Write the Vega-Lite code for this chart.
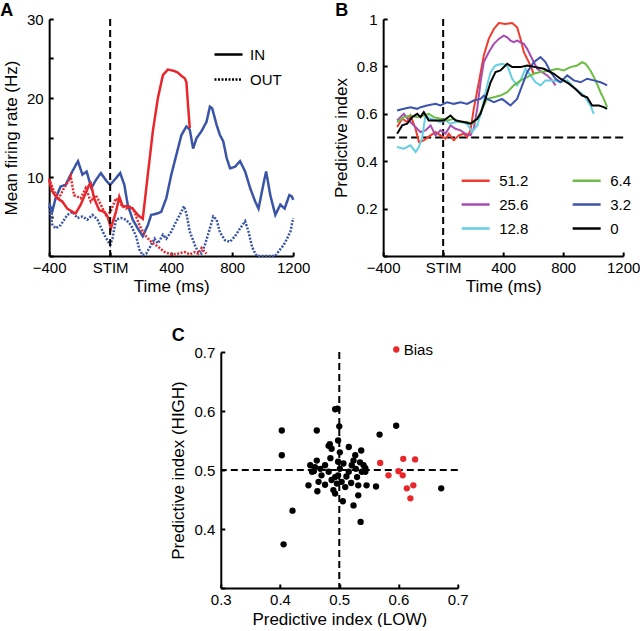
{
"$schema": "https://vega.github.io/schema/vega-lite/v6.json",
"padding": {"left": 0, "top": 2, "right": 0, "bottom": 0},
"config": {
 "font": "Liberation Sans",
 "view": {"stroke": null},
 "axis": {"domainColor": "#000", "domainWidth": 2, "tickColor": "#000", "tickWidth": 2, "tickSize": -4, "labelColor": "#000", "labelFontSize": 15, "titleFontSize": 17, "titleFontWeight": "normal", "titleColor": "#000", "grid": false, "labelFlush": false, "labelOverlap": false},
 "axisX": {"labelPadding": 8, "titlePadding": 3},
 "axisY": {"labelPadding": 10, "titlePadding": 6},
 "legend": {"labelFontSize": 15, "labelColor": "#000"},
 "title": {"fontSize": 18, "fontWeight": "bold", "anchor": "start", "frame": "group", "color": "#000", "offset": 0}
},
"datasets": {
 "A": [
  {"c":"blue","k":"IN","t":-400,"r":6.7},{"c":"blue","k":"IN","t":-380,"r":5.6},{"c":"blue","k":"IN","t":-358,"r":7.3},{"c":"blue","k":"IN","t":-325,"r":8.8},{"c":"blue","k":"IN","t":-292,"r":9.0},{"c":"blue","k":"IN","t":-259,"r":10.3},{"c":"blue","k":"IN","t":-226,"r":11.5},{"c":"blue","k":"IN","t":-211,"r":12.0},{"c":"blue","k":"IN","t":-182,"r":10.3},{"c":"blue","k":"IN","t":-154,"r":10.7},{"c":"blue","k":"IN","t":-123,"r":8.6},{"c":"blue","k":"IN","t":-94,"r":9.6},{"c":"blue","k":"IN","t":-61,"r":10.5},{"c":"blue","k":"IN","t":-28,"r":9.6},{"c":"blue","k":"IN","t":0,"r":9.0},{"c":"blue","k":"IN","t":27,"r":9.6},{"c":"blue","k":"IN","t":66,"r":10.5},{"c":"blue","k":"IN","t":93,"r":9.0},{"c":"blue","k":"IN","t":115,"r":6.5},{"c":"blue","k":"IN","t":148,"r":4.6},{"c":"blue","k":"IN","t":181,"r":3.5},{"c":"blue","k":"IN","t":214,"r":2.5},{"c":"blue","k":"IN","t":247,"r":3.9},{"c":"blue","k":"IN","t":269,"r":5.2},{"c":"blue","k":"IN","t":313,"r":5.4},{"c":"blue","k":"IN","t":335,"r":5.6},{"c":"blue","k":"IN","t":368,"r":7.3},{"c":"blue","k":"IN","t":401,"r":10.3},{"c":"blue","k":"IN","t":434,"r":12.8},{"c":"blue","k":"IN","t":467,"r":15.3},{"c":"blue","k":"IN","t":500,"r":16.4},{"c":"blue","k":"IN","t":522,"r":16.0},{"c":"blue","k":"IN","t":544,"r":13.6},{"c":"blue","k":"IN","t":566,"r":14.9},{"c":"blue","k":"IN","t":599,"r":15.8},{"c":"blue","k":"IN","t":632,"r":17.0},{"c":"blue","k":"IN","t":654,"r":18.9},{"c":"blue","k":"IN","t":669,"r":18.7},{"c":"blue","k":"IN","t":698,"r":16.6},{"c":"blue","k":"IN","t":720,"r":15.3},{"c":"blue","k":"IN","t":742,"r":14.5},{"c":"blue","k":"IN","t":764,"r":12.4},{"c":"blue","k":"IN","t":786,"r":11.1},{"c":"blue","k":"IN","t":819,"r":11.3},{"c":"blue","k":"IN","t":852,"r":12.0},{"c":"blue","k":"IN","t":885,"r":10.7},{"c":"blue","k":"IN","t":918,"r":8.6},{"c":"blue","k":"IN","t":951,"r":6.9},{"c":"blue","k":"IN","t":973,"r":6.0},{"c":"blue","k":"IN","t":1006,"r":9.2},{"c":"blue","k":"IN","t":1023,"r":10.7},{"c":"blue","k":"IN","t":1050,"r":7.7},{"c":"blue","k":"IN","t":1083,"r":5.2},{"c":"blue","k":"IN","t":1116,"r":6.5},{"c":"blue","k":"IN","t":1144,"r":6.0},{"c":"blue","k":"IN","t":1175,"r":7.7},{"c":"blue","k":"IN","t":1193,"r":7.5},{"c":"blue","k":"IN","t":1200,"r":7.1},
  {"c":"blue","k":"OUT","t":-400,"r":6.3},{"c":"blue","k":"OUT","t":-380,"r":4.0},{"c":"blue","k":"OUT","t":-358,"r":3.5},{"c":"blue","k":"OUT","t":-325,"r":3.9},{"c":"blue","k":"OUT","t":-281,"r":5.2},{"c":"blue","k":"OUT","t":-248,"r":5.6},{"c":"blue","k":"OUT","t":-215,"r":4.8},{"c":"blue","k":"OUT","t":-182,"r":5.0},{"c":"blue","k":"OUT","t":-149,"r":4.6},{"c":"blue","k":"OUT","t":-116,"r":5.2},{"c":"blue","k":"OUT","t":-83,"r":4.6},{"c":"blue","k":"OUT","t":-39,"r":2.7},{"c":"blue","k":"OUT","t":0,"r":1.4},{"c":"blue","k":"OUT","t":15,"r":2.2},{"c":"blue","k":"OUT","t":38,"r":4.6},{"c":"blue","k":"OUT","t":71,"r":4.8},{"c":"blue","k":"OUT","t":104,"r":4.6},{"c":"blue","k":"OUT","t":137,"r":3.9},{"c":"blue","k":"OUT","t":170,"r":2.5},{"c":"blue","k":"OUT","t":192,"r":0.8},{"c":"blue","k":"OUT","t":214,"r":0.1},{"c":"blue","k":"OUT","t":236,"r":0.3},{"c":"blue","k":"OUT","t":258,"r":1.0},{"c":"blue","k":"OUT","t":291,"r":2.2},{"c":"blue","k":"OUT","t":313,"r":1.6},{"c":"blue","k":"OUT","t":346,"r":2.7},{"c":"blue","k":"OUT","t":368,"r":2.2},{"c":"blue","k":"OUT","t":401,"r":3.1},{"c":"blue","k":"OUT","t":434,"r":4.4},{"c":"blue","k":"OUT","t":467,"r":5.6},{"c":"blue","k":"OUT","t":484,"r":6.3},{"c":"blue","k":"OUT","t":500,"r":5.4},{"c":"blue","k":"OUT","t":522,"r":3.1},{"c":"blue","k":"OUT","t":555,"r":1.4},{"c":"blue","k":"OUT","t":577,"r":0.5},{"c":"blue","k":"OUT","t":599,"r":0.3},{"c":"blue","k":"OUT","t":621,"r":1.4},{"c":"blue","k":"OUT","t":654,"r":3.5},{"c":"blue","k":"OUT","t":676,"r":5.0},{"c":"blue","k":"OUT","t":698,"r":4.6},{"c":"blue","k":"OUT","t":720,"r":3.0},{"c":"blue","k":"OUT","t":753,"r":2.0},{"c":"blue","k":"OUT","t":786,"r":1.8},{"c":"blue","k":"OUT","t":819,"r":2.5},{"c":"blue","k":"OUT","t":852,"r":3.5},{"c":"blue","k":"OUT","t":885,"r":4.4},{"c":"blue","k":"OUT","t":907,"r":3.1},{"c":"blue","k":"OUT","t":930,"r":1.2},{"c":"blue","k":"OUT","t":951,"r":0.3},{"c":"blue","k":"OUT","t":962,"r":0},{"c":"blue","k":"OUT","t":1083,"r":0},{"c":"blue","k":"OUT","t":1105,"r":0.6},{"c":"blue","k":"OUT","t":1138,"r":1.4},{"c":"blue","k":"OUT","t":1160,"r":2.2},{"c":"blue","k":"OUT","t":1182,"r":3.1},{"c":"blue","k":"OUT","t":1200,"r":4.8},
  {"c":"red","k":"IN","t":-400,"r":9.6},{"c":"red","k":"IN","t":-380,"r":8.2},{"c":"red","k":"IN","t":-347,"r":7.3},{"c":"red","k":"IN","t":-314,"r":6.9},{"c":"red","k":"IN","t":-281,"r":6.0},{"c":"red","k":"IN","t":-248,"r":5.6},{"c":"red","k":"IN","t":-226,"r":5.4},{"c":"red","k":"IN","t":-193,"r":6.5},{"c":"red","k":"IN","t":-160,"r":8.0},{"c":"red","k":"IN","t":-138,"r":9.0},{"c":"red","k":"IN","t":-127,"r":9.2},{"c":"red","k":"IN","t":-105,"r":7.3},{"c":"red","k":"IN","t":-72,"r":5.8},{"c":"red","k":"IN","t":-39,"r":5.6},{"c":"red","k":"IN","t":-17,"r":5.0},{"c":"red","k":"IN","t":5,"r":3.5},{"c":"red","k":"IN","t":38,"r":5.6},{"c":"red","k":"IN","t":60,"r":7.5},{"c":"red","k":"IN","t":82,"r":6.3},{"c":"red","k":"IN","t":115,"r":6.3},{"c":"red","k":"IN","t":148,"r":6.0},{"c":"red","k":"IN","t":181,"r":5.2},{"c":"red","k":"IN","t":214,"r":4.7},{"c":"red","k":"IN","t":247,"r":10.3},{"c":"red","k":"IN","t":280,"r":15.8},{"c":"red","k":"IN","t":313,"r":20.0},{"c":"red","k":"IN","t":346,"r":22.9},{"c":"red","k":"IN","t":379,"r":23.6},{"c":"red","k":"IN","t":401,"r":23.5},{"c":"red","k":"IN","t":423,"r":23.4},{"c":"red","k":"IN","t":445,"r":23.2},{"c":"red","k":"IN","t":467,"r":22.8},{"c":"red","k":"IN","t":489,"r":22.5},{"c":"red","k":"IN","t":500,"r":22.0},{"c":"red","k":"IN","t":511,"r":19.0},{"c":"red","k":"IN","t":522,"r":16.2},
  {"c":"red","k":"OUT","t":-400,"r":9.8},{"c":"red","k":"OUT","t":-369,"r":8.2},{"c":"red","k":"OUT","t":-336,"r":7.3},{"c":"red","k":"OUT","t":-303,"r":8.6},{"c":"red","k":"OUT","t":-270,"r":9.6},{"c":"red","k":"OUT","t":-259,"r":10.1},{"c":"red","k":"OUT","t":-237,"r":7.7},{"c":"red","k":"OUT","t":-193,"r":7.3},{"c":"red","k":"OUT","t":-160,"r":8.6},{"c":"red","k":"OUT","t":-127,"r":6.9},{"c":"red","k":"OUT","t":-94,"r":7.7},{"c":"red","k":"OUT","t":-61,"r":6.5},{"c":"red","k":"OUT","t":-28,"r":5.2},{"c":"red","k":"OUT","t":0,"r":5.5},{"c":"red","k":"OUT","t":38,"r":7.3},{"c":"red","k":"OUT","t":71,"r":6.5},{"c":"red","k":"OUT","t":104,"r":6.0},{"c":"red","k":"OUT","t":137,"r":6.3},{"c":"red","k":"OUT","t":159,"r":5.6},{"c":"red","k":"OUT","t":192,"r":3.9},{"c":"red","k":"OUT","t":225,"r":2.7},{"c":"red","k":"OUT","t":269,"r":1.8},{"c":"red","k":"OUT","t":313,"r":1.2},{"c":"red","k":"OUT","t":357,"r":0.5},{"c":"red","k":"OUT","t":401,"r":0.2},{"c":"red","k":"OUT","t":445,"r":0.3},{"c":"red","k":"OUT","t":489,"r":0.5},{"c":"red","k":"OUT","t":522,"r":0.2},{"c":"red","k":"OUT","t":555,"r":0.5},{"c":"red","k":"OUT","t":577,"r":0.3},{"c":"red","k":"OUT","t":599,"r":1.0},{"c":"red","k":"OUT","t":621,"r":0.5},{"c":"red","k":"OUT","t":632,"r":0.3}
 ],
 "B": [
  {"g":"51.2","t":-307,"v":0.544},{"g":"51.2","t":-273,"v":0.579},{"g":"51.2","t":-240,"v":0.565},{"g":"51.2","t":-218,"v":0.593},{"g":"51.2","t":-184,"v":0.537},{"g":"51.2","t":-162,"v":0.481},{"g":"51.2","t":-129,"v":0.488},{"g":"51.2","t":-84,"v":0.509},{"g":"51.2","t":-51,"v":0.523},{"g":"51.2","t":-18,"v":0.509},{"g":"51.2","t":16,"v":0.495},{"g":"51.2","t":38,"v":0.516},{"g":"51.2","t":71,"v":0.488},{"g":"51.2","t":104,"v":0.509},{"g":"51.2","t":138,"v":0.516},{"g":"51.2","t":160,"v":0.502},{"g":"51.2","t":182,"v":0.530},{"g":"51.2","t":204,"v":0.621},{"g":"51.2","t":238,"v":0.733},{"g":"51.2","t":271,"v":0.846},{"g":"51.2","t":304,"v":0.916},{"g":"51.2","t":338,"v":0.958},{"g":"51.2","t":371,"v":0.983},{"g":"51.2","t":416,"v":0.979},{"g":"51.2","t":460,"v":0.983},{"g":"51.2","t":493,"v":0.965},{"g":"51.2","t":516,"v":0.916},{"g":"51.2","t":538,"v":0.860},{"g":"51.2","t":571,"v":0.818},{"g":"51.2","t":604,"v":0.769},
  {"g":"25.6","t":-307,"v":0.572},{"g":"25.6","t":-262,"v":0.600},{"g":"25.6","t":-229,"v":0.572},{"g":"25.6","t":-196,"v":0.551},{"g":"25.6","t":-151,"v":0.523},{"g":"25.6","t":-118,"v":0.530},{"g":"25.6","t":-84,"v":0.551},{"g":"25.6","t":-51,"v":0.509},{"g":"25.6","t":-18,"v":0.530},{"g":"25.6","t":16,"v":0.516},{"g":"25.6","t":49,"v":0.551},{"g":"25.6","t":82,"v":0.537},{"g":"25.6","t":116,"v":0.530},{"g":"25.6","t":149,"v":0.516},{"g":"25.6","t":182,"v":0.509},{"g":"25.6","t":204,"v":0.537},{"g":"25.6","t":227,"v":0.621},{"g":"25.6","t":249,"v":0.733},{"g":"25.6","t":271,"v":0.818},{"g":"25.6","t":304,"v":0.860},{"g":"25.6","t":338,"v":0.895},{"g":"25.6","t":371,"v":0.916},{"g":"25.6","t":404,"v":0.930},{"g":"25.6","t":427,"v":0.923},{"g":"25.6","t":449,"v":0.909},{"g":"25.6","t":471,"v":0.902},{"g":"25.6","t":493,"v":0.909},{"g":"25.6","t":516,"v":0.902},{"g":"25.6","t":538,"v":0.895},{"g":"25.6","t":560,"v":0.874},{"g":"25.6","t":593,"v":0.832},{"g":"25.6","t":627,"v":0.790},{"g":"25.6","t":660,"v":0.776},{"g":"25.6","t":693,"v":0.762},{"g":"25.6","t":727,"v":0.741},{"g":"25.6","t":749,"v":0.720},
  {"g":"12.8","t":-307,"v":0.460},{"g":"12.8","t":-262,"v":0.453},{"g":"12.8","t":-218,"v":0.467},{"g":"12.8","t":-184,"v":0.439},{"g":"12.8","t":-162,"v":0.460},{"g":"12.8","t":-140,"v":0.500},{"g":"12.8","t":-118,"v":0.593},{"g":"12.8","t":-84,"v":0.579},{"g":"12.8","t":-51,"v":0.572},{"g":"12.8","t":-18,"v":0.565},{"g":"12.8","t":16,"v":0.572},{"g":"12.8","t":49,"v":0.558},{"g":"12.8","t":82,"v":0.565},{"g":"12.8","t":116,"v":0.565},{"g":"12.8","t":160,"v":0.558},{"g":"12.8","t":193,"v":0.523},{"g":"12.8","t":227,"v":0.551},{"g":"12.8","t":260,"v":0.621},{"g":"12.8","t":293,"v":0.720},{"g":"12.8","t":316,"v":0.776},{"g":"12.8","t":349,"v":0.804},{"g":"12.8","t":393,"v":0.811},{"g":"12.8","t":427,"v":0.804},{"g":"12.8","t":460,"v":0.748},{"g":"12.8","t":493,"v":0.720},{"g":"12.8","t":516,"v":0.741},{"g":"12.8","t":549,"v":0.790},{"g":"12.8","t":582,"v":0.762},{"g":"12.8","t":616,"v":0.733},{"g":"12.8","t":649,"v":0.720},{"g":"12.8","t":682,"v":0.741},{"g":"12.8","t":738,"v":0.741},{"g":"12.8","t":782,"v":0.733},{"g":"12.8","t":827,"v":0.741},{"g":"12.8","t":871,"v":0.712},{"g":"12.8","t":938,"v":0.677},{"g":"12.8","t":982,"v":0.635},{"g":"12.8","t":1004,"v":0.600},
  {"g":"6.4","t":-307,"v":0.565},{"g":"6.4","t":-262,"v":0.586},{"g":"6.4","t":-218,"v":0.593},{"g":"6.4","t":-173,"v":0.586},{"g":"6.4","t":-129,"v":0.593},{"g":"6.4","t":-96,"v":0.600},{"g":"6.4","t":-62,"v":0.586},{"g":"6.4","t":-18,"v":0.579},{"g":"6.4","t":27,"v":0.572},{"g":"6.4","t":71,"v":0.579},{"g":"6.4","t":116,"v":0.565},{"g":"6.4","t":160,"v":0.565},{"g":"6.4","t":193,"v":0.558},{"g":"6.4","t":227,"v":0.579},{"g":"6.4","t":260,"v":0.621},{"g":"6.4","t":293,"v":0.663},{"g":"6.4","t":338,"v":0.670},{"g":"6.4","t":382,"v":0.677},{"g":"6.4","t":427,"v":0.691},{"g":"6.4","t":471,"v":0.720},{"g":"6.4","t":516,"v":0.741},{"g":"6.4","t":560,"v":0.755},{"g":"6.4","t":604,"v":0.769},{"g":"6.4","t":649,"v":0.776},{"g":"6.4","t":716,"v":0.783},{"g":"6.4","t":760,"v":0.790},{"g":"6.4","t":804,"v":0.783},{"g":"6.4","t":849,"v":0.797},{"g":"6.4","t":893,"v":0.804},{"g":"6.4","t":927,"v":0.818},{"g":"6.4","t":949,"v":0.811},{"g":"6.4","t":982,"v":0.783},{"g":"6.4","t":1016,"v":0.741},{"g":"6.4","t":1049,"v":0.691},{"g":"6.4","t":1071,"v":0.663},{"g":"6.4","t":1093,"v":0.628},
  {"g":"3.2","t":-307,"v":0.614},{"g":"3.2","t":-262,"v":0.621},{"g":"3.2","t":-218,"v":0.628},{"g":"3.2","t":-173,"v":0.621},{"g":"3.2","t":-151,"v":0.628},{"g":"3.2","t":-107,"v":0.635},{"g":"3.2","t":-51,"v":0.642},{"g":"3.2","t":-18,"v":0.635},{"g":"3.2","t":27,"v":0.649},{"g":"3.2","t":71,"v":0.642},{"g":"3.2","t":116,"v":0.649},{"g":"3.2","t":160,"v":0.642},{"g":"3.2","t":204,"v":0.656},{"g":"3.2","t":249,"v":0.663},{"g":"3.2","t":271,"v":0.677},{"g":"3.2","t":293,"v":0.663},{"g":"3.2","t":338,"v":0.649},{"g":"3.2","t":393,"v":0.663},{"g":"3.2","t":449,"v":0.635},{"g":"3.2","t":493,"v":0.663},{"g":"3.2","t":527,"v":0.720},{"g":"3.2","t":560,"v":0.776},{"g":"3.2","t":604,"v":0.818},{"g":"3.2","t":649,"v":0.839},{"g":"3.2","t":682,"v":0.818},{"g":"3.2","t":716,"v":0.776},{"g":"3.2","t":749,"v":0.748},{"g":"3.2","t":782,"v":0.733},{"g":"3.2","t":827,"v":0.762},{"g":"3.2","t":871,"v":0.741},{"g":"3.2","t":916,"v":0.733},{"g":"3.2","t":960,"v":0.748},{"g":"3.2","t":1004,"v":0.741},{"g":"3.2","t":1049,"v":0.733},{"g":"3.2","t":1071,"v":0.727},{"g":"3.2","t":1093,"v":0.720},
  {"g":"0","t":-307,"v":0.516},{"g":"0","t":-273,"v":0.551},{"g":"0","t":-240,"v":0.558},{"g":"0","t":-207,"v":0.586},{"g":"0","t":-173,"v":0.600},{"g":"0","t":-151,"v":0.586},{"g":"0","t":-129,"v":0.607},{"g":"0","t":-96,"v":0.572},{"g":"0","t":-51,"v":0.572},{"g":"0","t":4,"v":0.572},{"g":"0","t":49,"v":0.593},{"g":"0","t":82,"v":0.572},{"g":"0","t":138,"v":0.565},{"g":"0","t":182,"v":0.558},{"g":"0","t":227,"v":0.579},{"g":"0","t":249,"v":0.600},{"g":"0","t":282,"v":0.663},{"g":"0","t":316,"v":0.733},{"g":"0","t":349,"v":0.776},{"g":"0","t":382,"v":0.783},{"g":"0","t":427,"v":0.811},{"g":"0","t":460,"v":0.797},{"g":"0","t":516,"v":0.797},{"g":"0","t":560,"v":0.804},{"g":"0","t":616,"v":0.797},{"g":"0","t":671,"v":0.790},{"g":"0","t":738,"v":0.769},{"g":"0","t":782,"v":0.748},{"g":"0","t":838,"v":0.727},{"g":"0","t":882,"v":0.705},{"g":"0","t":927,"v":0.677},{"g":"0","t":960,"v":0.670},{"g":"0","t":993,"v":0.635},{"g":"0","t":1038,"v":0.635},{"g":"0","t":1071,"v":0.628},{"g":"0","t":1093,"v":0.621}
 ],
 "Cn": [
  {"x":0.403,"y":0.567},{"x":0.403,"y":0.525},{"x":0.421,"y":0.431},{"x":0.406,"y":0.374},{"x":0.462,"y":0.567},{"x":0.493,"y":0.603},{"x":0.497,"y":0.604},{"x":0.500,"y":0.574},{"x":0.498,"y":0.550},{"x":0.484,"y":0.544},{"x":0.487,"y":0.536},{"x":0.516,"y":0.539},{"x":0.568,"y":0.560},{"x":0.596,"y":0.575},{"x":0.537,"y":0.533},{"x":0.462,"y":0.516},{"x":0.459,"y":0.505},{"x":0.451,"y":0.508},{"x":0.454,"y":0.497},{"x":0.448,"y":0.474},{"x":0.463,"y":0.464},{"x":0.465,"y":0.480},{"x":0.476,"y":0.475},{"x":0.487,"y":0.483},{"x":0.490,"y":0.466},{"x":0.493,"y":0.460},{"x":0.498,"y":0.491},{"x":0.501,"y":0.502},{"x":0.504,"y":0.480},{"x":0.507,"y":0.511},{"x":0.510,"y":0.471},{"x":0.516,"y":0.497},{"x":0.521,"y":0.508},{"x":0.524,"y":0.516},{"x":0.527,"y":0.525},{"x":0.530,"y":0.488},{"x":0.532,"y":0.474},{"x":0.535,"y":0.513},{"x":0.538,"y":0.497},{"x":0.541,"y":0.508},{"x":0.546,"y":0.474},{"x":0.544,"y":0.497},{"x":0.532,"y":0.457},{"x":0.524,"y":0.440},{"x":0.506,"y":0.447},{"x":0.536,"y":0.412},{"x":0.562,"y":0.472},{"x":0.672,"y":0.469},{"x":0.482,"y":0.497},{"x":0.476,"y":0.508},{"x":0.498,"y":0.514},{"x":0.470,"y":0.491},{"x":0.493,"y":0.488},{"x":0.496,"y":0.477},{"x":0.482,"y":0.541},{"x":0.501,"y":0.530},{"x":0.457,"y":0.498},{"x":0.468,"y":0.502},{"x":0.485,"y":0.520},{"x":0.512,"y":0.489},{"x":0.520,"y":0.478},{"x":0.528,"y":0.502},{"x":0.544,"y":0.503}
 ],
 "Cb": [
  {"g":"Bias","x":0.569,"y":0.512},{"g":"Bias","x":0.583,"y":0.491},{"g":"Bias","x":0.608,"y":0.519},{"g":"Bias","x":0.628,"y":0.518},{"g":"Bias","x":0.600,"y":0.498},{"g":"Bias","x":0.607,"y":0.491},{"g":"Bias","x":0.614,"y":0.469},{"g":"Bias","x":0.625,"y":0.474},{"g":"Bias","x":0.620,"y":0.452}
 ]
},
"vconcat": [
 {
  "hconcat": [
   {
    "width": 244, "height": 237,
    "title": {"text": "A", "dx": -49, "dy": 12},
    "layer": [
     {"data": {"name": "A"},
      "mark": {"type": "line", "strokeWidth": 2.5},
      "encoding": {
       "x": {"field": "t", "type": "quantitative", "scale": {"domain": [-400, 1200], "nice": false}, "axis": {"title": "Time (ms)", "values": [-400,-200,0,200,400,600,800,1000,1200], "format": "d", "labelExpr": "datum.value == 0 ? 'STIM' : (datum.value % 400 == 0 ? datum.label : '')"}},
       "y": {"field": "r", "type": "quantitative", "scale": {"domain": [0, 30], "nice": false}, "axis": {"title": "Mean firing rate (Hz)", "values": [0,5,10,15,20,25,30], "labelExpr": "(datum.value > 0 && datum.value % 10 == 0) ? datum.label : ''"}},
       "color": {"field": "c", "type": "nominal", "scale": {"domain": ["blue", "red"], "range": ["#3b55a6", "#e8262b"]}, "legend": null},
       "strokeDash": {"field": "k", "type": "nominal", "scale": {"domain": ["IN", "OUT"], "range": [[1, 0], [2, 1.5]]}, "legend": {"orient": "none", "legendX": 164, "legendY": 20, "title": null, "symbolType": "stroke", "symbolSize": 784, "symbolStrokeWidth": 2.5, "symbolStrokeColor": "#000", "labelOffset": 6, "rowPadding": 1}}
      }},
     {"data": {"values": [{}]},
      "mark": {"type": "rule", "strokeDash": [7, 4], "strokeWidth": 2, "color": "#000"},
      "encoding": {"x": {"datum": 0, "scale": {"domain": [-400, 1200], "nice": false}}}}
    ]
   },
   {
    "width": 240, "height": 237,
    "title": {"text": "B", "dx": -48, "dy": 12},
    "layer": [
     {"data": {"values": [{}]},
      "mark": {"type": "rule", "strokeDash": [8, 4], "strokeWidth": 2, "color": "#000"},
      "encoding": {"y": {"datum": 0.5, "scale": {"domain": [0, 1], "nice": false}}}},
     {"data": {"values": [{}]},
      "mark": {"type": "rule", "strokeDash": [7, 4], "strokeWidth": 2, "color": "#000"},
      "encoding": {"x": {"datum": 0, "scale": {"domain": [-400, 1200], "nice": false}}}},
     {"data": {"name": "B"},
      "mark": {"type": "line", "strokeWidth": 2},
      "encoding": {
       "x": {"field": "t", "type": "quantitative", "scale": {"domain": [-400, 1200], "nice": false}, "axis": {"title": "Time (ms)", "values": [-400,-200,0,200,400,600,800,1000,1200], "format": "d", "labelExpr": "datum.value == 0 ? 'STIM' : (datum.value % 400 == 0 ? datum.label : '')"}},
       "y": {"field": "v", "type": "quantitative", "scale": {"domain": [0, 1], "nice": false}, "axis": {"title": "Predictive index", "values": [0,0.1,0.2,0.3,0.4,0.5,0.6,0.7,0.8,0.9,1], "format": "~g", "labelExpr": "(datum.value > 0.05 && round(datum.value*10) % 2 == 0) ? datum.label : ''"}},
       "color": {"field": "g", "type": "nominal", "scale": {"domain": ["51.2", "25.6", "12.8", "6.4", "3.2", "0"], "range": ["#f03c2d", "#a54eb0", "#66cfe6", "#6cbd45", "#3c53ae", "#000000"]}, "legend": {"orient": "none", "legendX": 77, "legendY": 146, "title": null, "columns": 2, "symbolType": "stroke", "symbolSize": 784, "symbolStrokeWidth": 2.5, "labelOffset": 8, "rowPadding": -3, "columnPadding": 38}}
      }}
    ]
   }
  ],
  "spacing": 90,
  "bounds": "flush",
  "resolve": {"scale": {"color": "independent", "x": "independent", "y": "independent"}}
 },
 {
  "width": 237, "height": 236,
  "title": {"text": "C", "dx": -49, "dy": 7},
  "layer": [
   {"data": {"values": [{}]},
    "mark": {"type": "rule", "strokeDash": [7, 4], "strokeWidth": 2, "color": "#000"},
    "encoding": {"y": {"datum": 0.5, "scale": {"domain": [0.3, 0.7], "nice": false, "zero": false}}}},
   {"data": {"values": [{}]},
    "mark": {"type": "rule", "strokeDash": [7, 4], "strokeWidth": 2, "color": "#000"},
    "encoding": {"x": {"datum": 0.5, "scale": {"domain": [0.3, 0.7], "nice": false, "zero": false}}}},
   {"data": {"name": "Cn"},
    "mark": {"type": "circle", "size": 40, "opacity": 1, "color": "#000"},
    "encoding": {
     "x": {"field": "x", "type": "quantitative", "scale": {"domain": [0.3, 0.7], "nice": false, "zero": false}, "axis": {"title": "Predictive index (LOW)", "titlePadding": 4, "values": [0.3,0.4,0.5,0.6,0.7], "format": ".1f"}},
     "y": {"field": "y", "type": "quantitative", "scale": {"domain": [0.3, 0.7], "nice": false, "zero": false}, "axis": {"title": "Predictive index (HIGH)", "values": [0.3,0.35,0.4,0.45,0.5,0.55,0.6,0.65,0.7], "format": ".1f", "labelExpr": "(round(datum.value*100) % 10 == 0 && datum.value > 0.31) ? datum.label : ''"}}
    }},
   {"data": {"name": "Cb"},
    "mark": {"type": "circle", "size": 40, "opacity": 1},
    "encoding": {
     "x": {"field": "x", "type": "quantitative", "scale": {"domain": [0.3, 0.7], "nice": false, "zero": false}},
     "y": {"field": "y", "type": "quantitative", "scale": {"domain": [0.3, 0.7], "nice": false, "zero": false}},
     "color": {"field": "g", "type": "nominal", "scale": {"domain": ["Bias"], "range": ["#e8262b"]}, "legend": {"orient": "none", "legendX": 168, "legendY": -10, "title": null, "symbolSize": 40, "symbolType": "circle", "labelOffset": 0}}
    }}
  ]
 }
],
"spacing": 33,
"center": true,
"resolve": {"scale": {"color": "independent", "x": "independent", "y": "independent"}}
}
